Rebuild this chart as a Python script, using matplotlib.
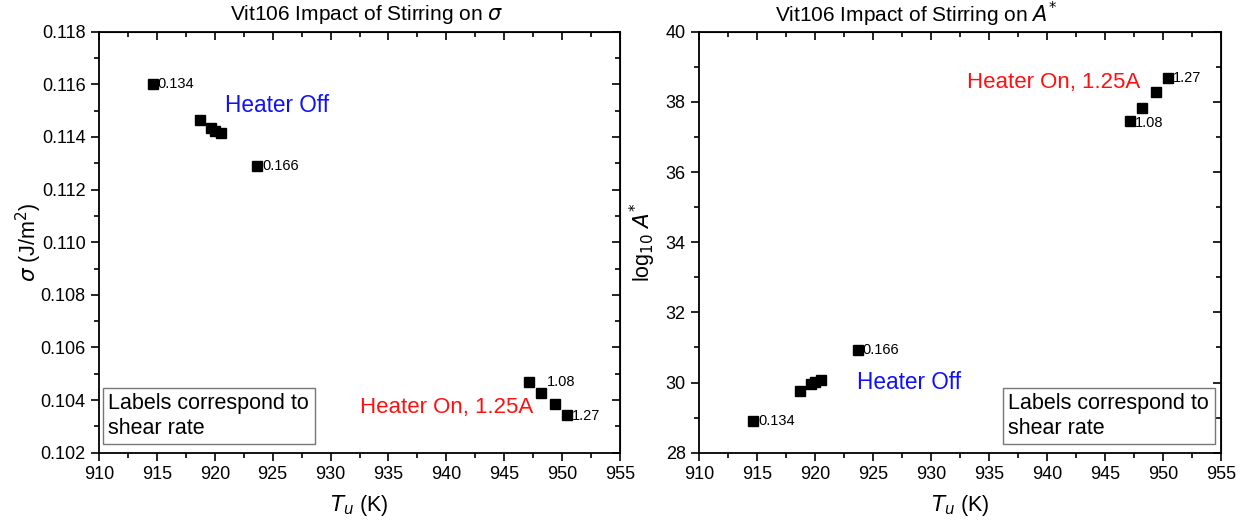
import matplotlib
matplotlib.use("Agg")
import matplotlib.pyplot as plt
from matplotlib.ticker import MultipleLocator, FormatStrFormatter
from matplotlib.patches import Rectangle

plt.rcParams['font.family'] = ['Liberation Sans', 'DejaVu Sans']
plt.rcParams['mathtext.fontset'] = 'dejavusans'

# Data
T_u = [914.65, 918.72, 919.67, 920.02, 920.51, 923.67, 947.15, 948.18, 949.38, 950.42]
sigma = [0.11602, 0.11464, 0.11433, 0.11424, 0.11414, 0.11289, 0.10468, 0.10428, 0.10384, 0.10343]
logA = [28.90, 29.77, 29.97, 30.02, 30.08, 30.92, 37.46, 37.83, 38.27, 38.67]
point_labels = {0: "0.134", 5: "0.166", 6: "1.08", 9: "1.27"}

x_ticks = [910, 915, 920, 925, 930, 935, 940, 945, 950, 955]

fig = plt.figure(figsize=(12.45, 5.2), dpi=100)
ax1 = fig.add_axes([99/1245, 1-452.7/520, 521/1245, 421/520])
ax2 = fig.add_axes([699/1245, 1-452.7/520, 522/1245, 421/520])

def style_axes(ax, ymin, ymax, ymaj, ymin_step, yfmt):
    ax.set_xlim(910, 955)
    ax.set_ylim(ymin, ymax)
    ax.set_xticks(x_ticks)
    ax.xaxis.set_minor_locator(MultipleLocator(2.5))
    ax.yaxis.set_major_locator(MultipleLocator(ymaj))
    ax.yaxis.set_minor_locator(MultipleLocator(ymin_step))
    ax.yaxis.set_major_formatter(FormatStrFormatter(yfmt))
    ax.tick_params(which='both', direction='out', top=False, right=False, labelsize=13, width=1.2)
    ax.tick_params(which='major', length=6)
    ax.tick_params(which='minor', length=3.5)
    for s in ax.spines.values():
        s.set_linewidth(1.3)
    # inward ticks on top and right via secondary axes
    tx = ax.secondary_xaxis('top')
    tx.set_xticks(x_ticks)
    tx.xaxis.set_minor_locator(MultipleLocator(2.5))
    tx.tick_params(which='both', direction='in', labeltop=False, width=1.2)
    tx.tick_params(which='major', length=6)
    tx.tick_params(which='minor', length=3.5)
    ty = ax.secondary_yaxis('right')
    ty.yaxis.set_major_locator(MultipleLocator(ymaj))
    ty.yaxis.set_minor_locator(MultipleLocator(ymin_step))
    ty.tick_params(which='both', direction='in', labelright=False, width=1.2)
    ty.tick_params(which='major', length=6)
    ty.tick_params(which='minor', length=3.5)
    ax.set_xlabel(r"$T_u$ (K)", fontsize=15.5, labelpad=7)

# Left plot
style_axes(ax1, 0.102, 0.118, 0.002, 0.001, '%.3f')
ax1.plot(T_u, sigma, 's', color='black', markersize=7, linestyle='none')
left_offsets = {0: (5, 0), 5: (5, 0), 6: (18, 0), 9: (5, -1)}
for i, lab in point_labels.items():
    dx, dy = left_offsets[i]
    ax1.annotate(lab, (T_u[i], sigma[i]), xytext=(dx, dy), textcoords='offset pixels',
                 fontsize=10.5, va='center', ha='left')
ax1.set_ylabel(r"$\sigma$ (J/m$^2$)", fontsize=15.5)
ax1.yaxis.set_label_coords(-0.106, 0.5)
ax1.text(920.9, 0.11518, "Heater Off", color='#1010ff', fontsize=16.3, va='center', ha='left')
ax1.text(932.5, 0.10370, "Heater On, 1.25A", color='#ff1010', fontsize=16, va='center', ha='left')
ax1.add_patch(Rectangle((0.008, 0.021), 0.407, 0.133, transform=ax1.transAxes,
                        fill=False, edgecolor='#777777', linewidth=1.0))
ax1.text(0.017, 0.0875, "Labels correspond to\nshear rate", transform=ax1.transAxes,
         fontsize=15.5, va='center', ha='left', linespacing=1.25)
fig.text(367/1245, 1-14/520, r"Vit106 Impact of Stirring on $\sigma$", fontsize=15,
         ha='center', va='center')

# Right plot
style_axes(ax2, 28, 40, 2, 1, '%d')
ax2.plot(T_u, logA, 's', color='black', markersize=7, linestyle='none')
right_offsets = {0: (5, 0), 5: (5, 0), 6: (5, -2), 9: (5, 0)}
for i, lab in point_labels.items():
    dx, dy = right_offsets[i]
    ax2.annotate(lab, (T_u[i], logA[i]), xytext=(dx, dy), textcoords='offset pixels',
                 fontsize=10.5, va='center', ha='left')
ax2.set_ylabel(r"log$_{10}$ $A^{*}$", fontsize=15.5)
ax2.yaxis.set_label_coords(-0.078, 0.5)
ax2.text(923.6, 29.99, "Heater Off", color='#1010ff', fontsize=16.3, va='center', ha='left')
ax2.text(933.1, 38.54, "Heater On, 1.25A", color='#ff1010', fontsize=16, va='center', ha='left')
ax2.add_patch(Rectangle((0.582, 0.021), 0.4065, 0.133, transform=ax2.transAxes,
                        fill=False, edgecolor='#777777', linewidth=1.0))
ax2.text(0.591, 0.0875, "Labels correspond to\nshear rate", transform=ax2.transAxes,
         fontsize=15.5, va='center', ha='left', linespacing=1.25)
fig.text(916/1245, 1-14/520, r"Vit106 Impact of Stirring on $A^{*}$", fontsize=15,
         ha='center', va='center')

fig.savefig("out.png", dpi=100)
